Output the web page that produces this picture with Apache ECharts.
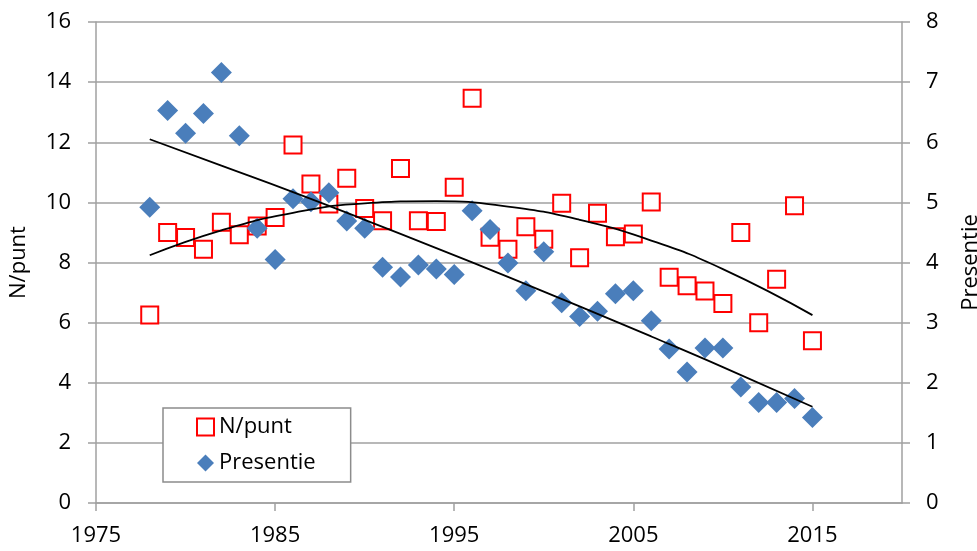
<!DOCTYPE html>
<html lang="nl">
<head>
    <meta charset="UTF-8">
    <title>N/punt en Presentie</title>
    <style>
        html, body {
            margin: 0;
            height: 100%;
            background: #fff;
        }
        #main {
            width: 977px;
            height: 551px;
        }
    </style>
</head>
<body>
<div id="main"></div>
<script src="https://cdn.jsdelivr.net/npm/echarts@6/dist/echarts.min.js"></script>
<script>
    var years = [1978, 1979, 1980, 1981, 1982, 1983, 1984, 1985, 1986, 1987,
        1988, 1989, 1990, 1991, 1992, 1993, 1994, 1995, 1996, 1997,
        1998, 1999, 2000, 2001, 2002, 2003, 2004, 2005, 2006, 2007,
        2008, 2009, 2010, 2011, 2012, 2013, 2014, 2015];

    // linker as
    var nPunt = [6.25, 9.00, 8.83, 8.44, 9.34, 8.92, 9.21, 9.50, 11.91, 10.61,
        9.95, 10.80, 9.80, 9.39, 11.13, 9.39, 9.36, 10.50, 13.46, 8.84,
        8.44, 9.19, 8.77, 9.97, 8.16, 9.64, 8.86, 8.95, 10.01, 7.51,
        7.23, 7.05, 6.64, 9.00, 6.00, 7.44, 9.89, 5.40];

    // rechter as
    var presentie = [4.92, 6.53, 6.15, 6.48, 7.16, 6.11, 4.57, 4.05, 5.06, 5.01,
        5.16, 4.69, 4.57, 3.92, 3.76, 3.96, 3.89, 3.80, 4.86, 4.55,
        3.99, 3.53, 4.18, 3.33, 3.10, 3.19, 3.48, 3.53, 3.03, 2.56,
        2.18, 2.58, 2.58, 1.93, 1.67, 1.67, 1.74, 1.42];

    // trendlijnen
    var trendYears = [1978, 1982, 1986, 1990, 1994, 1998, 2002, 2006, 2010, 2015];
    var nPuntTrend = [8.24, 9.07, 9.65, 9.97, 10.04, 9.86, 9.42, 8.73, 7.78, 6.25];
    var presentieTrend = [6.05, 5.61, 5.17, 4.71, 4.24, 3.76, 3.27, 2.77, 2.26, 1.60];

    var xTicks = [1975, 1985, 1995, 2005, 2015];

    function pairs(xs, ys) {
        var res = [];
        for (var i = 0; i < xs.length; i++) {
            res.push([xs[i], ys[i]]);
        }
        return res;
    }

    var font = '"Open Sans", "Noto Sans", sans-serif';
    var gray = '#a0a0a0';

    var chart = echarts.init(document.getElementById('main'));

    var option = {
        animation: false,
        textStyle: {fontFamily: font},
        grid: {left: 96, right: 75, top: 22, bottom: 48, containLabel: false, outerBoundsMode: 'none'},
        legend: {
            data: ['N/punt', 'Presentie'],
            orient: 'vertical',
            left: 163,
            top: 408,
            padding: [6, 35, 6, 33],
            itemGap: 10,
            itemWidth: 17,
            itemHeight: 17,
            backgroundColor: '#fff',
            borderColor: '#8c8c8c',
            borderWidth: 1.5,
            borderRadius: 0,
            textStyle: {fontFamily: font, fontSize: 22, color: '#000', lineHeight: 26}
        },
        xAxis: {
            type: 'value',
            min: 1975,
            max: 2020,
            interval: 10,
            axisLine: {lineStyle: {color: gray, width: 1.5}},
            axisTick: {show: true, length: 8, customValues: xTicks, lineStyle: {color: gray, width: 1.5}},
            axisLabel: {
                customValues: xTicks,
                formatter: function (v) { return String(v); },
                margin: 22,
                color: '#000',
                fontFamily: font,
                fontSize: 22
            },
            splitLine: {show: false}
        },
        yAxis: [{
            type: 'value',
            min: 0,
            max: 16,
            interval: 2,
            name: 'N/punt',
            nameLocation: 'middle',
            nameGap: 66,
            nameRotate: 90,
            nameTextStyle: {color: '#000', fontFamily: font, fontSize: 22},
            axisLine: {show: true, lineStyle: {color: gray, width: 1.5}},
            axisTick: {show: true, length: 8, lineStyle: {color: gray, width: 1.5}},
            axisLabel: {margin: 25, color: '#000', fontFamily: font, fontSize: 22},
            splitLine: {show: true, lineStyle: {color: gray, width: 1.5}}
        }, {
            type: 'value',
            min: 0,
            max: 8,
            interval: 1,
            position: 'right',
            name: 'Presentie',
            nameLocation: 'middle',
            nameGap: 58,
            nameRotate: 90,
            nameTextStyle: {color: '#000', fontFamily: font, fontSize: 22},
            axisLine: {show: true, lineStyle: {color: gray, width: 1.5}},
            axisTick: {show: true, length: 8, lineStyle: {color: gray, width: 1.5}},
            axisLabel: {margin: 24, color: '#000', fontFamily: font, fontSize: 22},
            splitLine: {show: false}
        }],
        series: [
            {
                name: 'N/punt',
                type: 'scatter',
                yAxisIndex: 0,
                symbol: 'rect',
                symbolSize: 17,
                itemStyle: {color: '#fff', borderColor: '#ff0000', borderWidth: 2, opacity: 1},
                data: pairs(years, nPunt),
                z: 2
            },
            {
                name: 'Presentie',
                type: 'scatter',
                yAxisIndex: 1,
                symbol: 'diamond',
                symbolSize: 21,
                itemStyle: {color: '#4a7ebb', opacity: 1},
                data: pairs(years, presentie),
                z: 3
            },
            {
                name: 'Trend N/punt',
                type: 'line',
                yAxisIndex: 0,
                smooth: true,
                showSymbol: false,
                symbol: 'none',
                lineStyle: {color: '#000', width: 1.8},
                data: pairs(trendYears, nPuntTrend),
                z: 4
            },
            {
                name: 'Trend Presentie',
                type: 'line',
                yAxisIndex: 1,
                smooth: true,
                showSymbol: false,
                symbol: 'none',
                lineStyle: {color: '#000', width: 1.8},
                data: pairs(trendYears, presentieTrend),
                z: 4
            }
        ]
    };

    chart.setOption(option);
</script>
</body>
</html>
